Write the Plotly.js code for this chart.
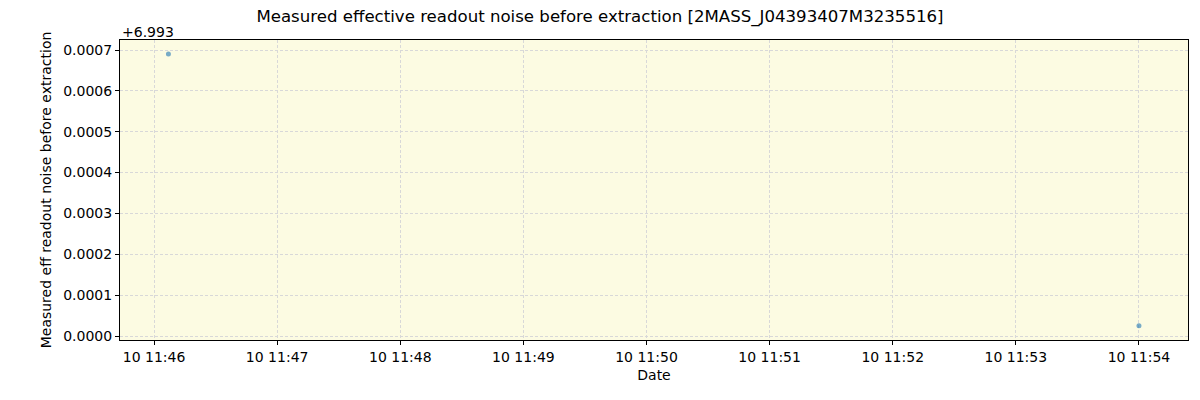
<!DOCTYPE html>
<html>
<head>
<meta charset="utf-8">
<script src="https://cdn.plot.ly/plotly-3.0.1.min.js"></script>
<style>
  html, body { margin: 0; padding: 0; background: #fff; }
  #chart { width: 1200px; height: 400px; }
</style>
</head>
<body>
<div id="chart"></div>
<script>
// data
const dates = ['2023-01-10 11:46:07', '2023-01-10 11:54:00'];
const noise = [6.99369, 6.993025];
const offset = 6.993;
const yTicks = [0, 0.0001, 0.0002, 0.0003, 0.0004, 0.0005, 0.0006, 0.0007];
const xTicks = ['2023-01-10 11:46', '2023-01-10 11:47', '2023-01-10 11:48', '2023-01-10 11:49',
                '2023-01-10 11:50', '2023-01-10 11:51', '2023-01-10 11:52', '2023-01-10 11:53',
                '2023-01-10 11:54'];

const axisBase = {
    showline: true,
    linecolor: '#000',
    linewidth: 1,
    mirror: true,
    ticks: 'outside',
    ticklen: 4,
    tickcolor: '#000',
    gridcolor: '#d8d8d8',
    griddash: '3px,2px',
    gridwidth: 1,
    zeroline: false,
    tickfont: { size: 14, color: '#000' }
};

const trace = {
    x: dates,
    y: noise.map(v => v - offset),
    type: 'scatter',
    mode: 'markers',
    marker: { color: '#1f77b4', opacity: 0.6, size: 5 },
    hoverinfo: 'x+y'
};

Plotly.newPlot('chart', [trace], {
    width: 1200,
    height: 400,
    font: { family: 'DejaVu Sans', color: '#000' },
    paper_bgcolor: '#fff',
    plot_bgcolor: '#fcfbe2',
    margin: { l: 120, r: 12, t: 40, b: 60 },
    showlegend: false,
    title: {
        text: 'Measured effective readout noise before extraction [2MASS_J04393407M3235516]',
        font: { size: 16.6 },
        x: 0.5, xanchor: 'center', y: 0.975, yanchor: 'top'
    },
    xaxis: {
        ...axisBase,
        type: 'date',
        range: ['2023-01-10 11:45:43.4', '2023-01-10 11:54:23.9'],
        tickvals: xTicks,
        tickformat: '%d %H:%M',
        title: { text: 'Date', font: { size: 14 }, standoff: 6 }
    },
    yaxis: {
        ...axisBase,
        range: [-0.0000098, 0.0007245],
        tickvals: yTicks,
        tickformat: '.4f',
        title: { text: 'Measured eff readout noise before extraction', font: { size: 14 }, standoff: 8 }
    },
    annotations: [{
        text: '+6.993',
        xref: 'paper', yref: 'paper',
        x: 0, y: 1, xanchor: 'left', yanchor: 'bottom',
        showarrow: false,
        font: { size: 14 },
        yshift: -2
    }]
}, { displayModeBar: false, staticPlot: true });
</script>
</body>
</html>
